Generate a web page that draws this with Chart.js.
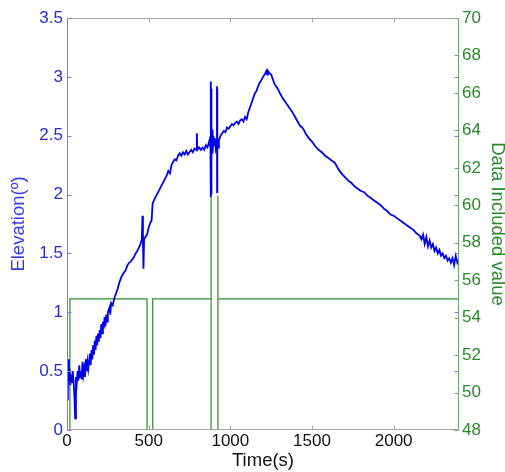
<!DOCTYPE html>
<html>
<head>
<meta charset="utf-8">
<script src="https://cdn.jsdelivr.net/npm/chart.js@4/dist/chart.umd.min.js"></script>
<style>
  html, body { margin: 0; padding: 0; background: #fff; }
  canvas { display: block; }
</style>
</head>
<body>
<canvas id="chartElev" width="505" height="472"></canvas>
<script>
// Elevation track (s, degrees)
const elevTime = [
  5, 8, 12, 16, 20, 25, 30, 35, 40, 45, 50, 55, 60, 65, 70, 75, 80, 85, 90, 95,
  100, 105, 110, 115, 120, 125, 130, 140, 145, 150, 155, 160, 165, 170, 175, 180, 185, 190, 195, 200,
  205, 210, 215, 220, 225, 230, 235, 240, 245, 250, 260, 265, 270, 280, 290, 300, 310, 320, 330, 340,
  350, 360, 370, 380, 390, 400, 410, 420, 430, 440, 450, 458, 462, 465, 468, 472, 480, 490, 500, 510,
  518, 524, 535, 550, 565, 580, 595, 610, 620, 630, 640, 650, 660, 670, 680, 690, 700, 710, 720, 730,
  740, 750, 760, 770, 780, 790, 795, 798, 810, 820, 830, 840, 850, 860, 870, 875, 878, 880, 881, 882,
  883, 884, 885, 886, 888, 890, 893, 896, 900, 905, 910, 915, 918, 919, 920, 921, 925, 930, 940, 950,
  960, 970, 980, 990, 1000, 1010, 1020, 1030, 1040, 1050, 1060, 1070, 1080, 1090, 1100, 1110, 1120, 1130, 1140, 1150,
  1160, 1170, 1180, 1190, 1200, 1210, 1220, 1225, 1230, 1240, 1250, 1260, 1270, 1280, 1290, 1300, 1320, 1340, 1350, 1360,
  1380, 1400, 1420, 1430, 1440, 1450, 1460, 1480, 1500, 1520, 1540, 1560, 1580, 1600, 1620, 1640, 1660, 1680, 1700, 1720,
  1740, 1760, 1780, 1800, 1820, 1840, 1860, 1880, 1900, 1920, 1940, 1960, 1980, 2000, 2020, 2040, 2060, 2080, 2100, 2120,
  2140, 2160, 2170, 2180, 2190, 2200, 2210, 2220, 2230, 2240, 2250, 2260, 2270, 2280, 2290, 2300, 2310, 2320, 2330, 2340,
  2350, 2360, 2370, 2380, 2390, 2400
];
const elevDeg = [
  0.25, 0.60, 0.42, 0.52, 0.38, 0.47, 0.40, 0.50, 0.42, 0.30, 0.10, 0.45, 0.40, 0.50, 0.42, 0.55, 0.45, 0.50, 0.43, 0.58,
  0.47, 0.52, 0.45, 0.60, 0.50, 0.58, 0.52, 0.65, 0.55, 0.68, 0.60, 0.72, 0.64, 0.76, 0.68, 0.80, 0.72, 0.82, 0.75, 0.85,
  0.78, 0.90, 0.82, 0.92, 0.86, 0.96, 0.88, 0.98, 0.92, 1.00, 1.04, 0.98, 1.08, 1.06, 1.12, 1.16, 1.20, 1.25, 1.29, 1.32,
  1.34, 1.36, 1.40, 1.42, 1.43, 1.45, 1.47, 1.50, 1.52, 1.55, 1.58, 1.62, 1.82, 1.60, 1.37, 1.62, 1.64, 1.66, 1.72, 1.76,
  1.78, 1.92, 1.96, 2.00, 2.04, 2.08, 2.12, 2.16, 2.20, 2.18, 2.25, 2.28, 2.30, 2.29, 2.33, 2.35, 2.33, 2.36, 2.34, 2.37,
  2.34, 2.36, 2.38, 2.36, 2.39, 2.38, 2.52, 2.38, 2.40, 2.38, 2.40, 2.38, 2.42, 2.40, 2.45, 2.42, 2.50, 2.96, 1.98, 2.90,
  2.00, 2.70, 2.10, 2.60, 2.40, 2.55, 2.35, 2.50, 2.42, 2.48, 2.40, 2.45, 2.92, 2.02, 2.90, 2.45, 2.40, 2.46, 2.50, 2.52,
  2.54, 2.53, 2.57, 2.56, 2.58, 2.60, 2.59, 2.61, 2.62, 2.60, 2.63, 2.64, 2.62, 2.66, 2.64, 2.70, 2.74, 2.78, 2.82, 2.86,
  2.88, 2.92, 2.95, 2.97, 3.00, 3.02, 3.05, 3.02, 3.05, 3.03, 3.02, 2.98, 2.94, 2.92, 2.90, 2.87, 2.82, 2.78, 2.76, 2.74,
  2.70, 2.65, 2.60, 2.58, 2.57, 2.55, 2.52, 2.48, 2.45, 2.41, 2.38, 2.36, 2.33, 2.31, 2.29, 2.27, 2.22, 2.18, 2.15, 2.12,
  2.10, 2.07, 2.05, 2.03, 2.02, 1.99, 1.97, 1.95, 1.93, 1.91, 1.88, 1.86, 1.83, 1.82, 1.80, 1.78, 1.76, 1.74, 1.72, 1.70,
  1.67, 1.65, 1.62, 1.66, 1.58, 1.64, 1.56, 1.61, 1.55, 1.58, 1.52, 1.55, 1.50, 1.53, 1.48, 1.50, 1.46, 1.48, 1.44, 1.46,
  1.42, 1.46, 1.40, 1.48, 1.42, 1.45
];

// "Data Included" flag, step trace on the right axis
const flagTime  = [0, 18, 18, 490, 490, 525, 525, 882, 882, 882, 882, 924, 924, 924, 2400];
const flagValue = [48, 48, 55, 55, 48, 48, 55, 55, 48, 60.5, 48, 48, 60.5, 55, 55];

// Axis ticks
const timeTicks = [0, 500, 1000, 1500, 2000];
const elevTicks = [0, 0.5, 1, 1.5, 2, 2.5, 3, 3.5];
const flagTicks = [48, 50, 52, 54, 56, 58, 60, 62, 64, 66, 68, 70];

const BLUE = '#0000f0';
const GREEN = '#2e8c2e';
const FONT = "'Liberation Sans', Arial, sans-serif";

const toPoints = (xs, ys) => xs.map((x, i) => ({ x: x, y: ys[i] }));
const fixTicks = vals => scale => { scale.ticks = vals.map(v => ({ value: v })); };
const plainLabel = v => String(v);

// frame + small inward tick marks, matlab style
const frameTicks = {
  id: 'frameTicks',
  afterDatasetsDraw(chart) {
    const { ctx, chartArea: a, scales } = chart;
    const L = a.left + 0.5, R = a.right - 0.5, T = a.top + 0.5, B = a.bottom - 0.5;
    const len = 4;
    ctx.save();
    ctx.lineWidth = 1;

    ctx.strokeStyle = '#a4a4a4';
    ctx.beginPath();
    ctx.moveTo(L, T); ctx.lineTo(R, T);
    ctx.moveTo(L, B); ctx.lineTo(R, B);
    timeTicks.forEach(v => {
      const x = Math.round(scales.x.getPixelForValue(v)) + 0.5;
      ctx.moveTo(x, B); ctx.lineTo(x, B - len);
      ctx.moveTo(x, T); ctx.lineTo(x, T + len);
    });
    ctx.stroke();

    ctx.strokeStyle = '#7a7af2';
    ctx.beginPath();
    ctx.moveTo(L, T); ctx.lineTo(L, B);
    elevTicks.forEach(v => {
      const y = Math.round(scales.y.getPixelForValue(v)) + 0.5;
      ctx.moveTo(L, y); ctx.lineTo(L + len, y);
      ctx.moveTo(R, y); ctx.lineTo(R - len, y);
    });
    ctx.stroke();

    ctx.strokeStyle = '#66a866';
    ctx.beginPath();
    ctx.moveTo(R, T); ctx.lineTo(R, B);
    flagTicks.forEach(v => {
      const y = Math.round(scales.y2.getPixelForValue(v)) + 0.5;
      ctx.moveTo(R, y); ctx.lineTo(R - len, y);
    });
    ctx.stroke();
    ctx.restore();
  }
};

new Chart(document.getElementById('chartElev').getContext('2d'), {
  type: 'scatter',
  data: {
    datasets: [
      {
        label: 'Elevation',
        data: toPoints(elevTime, elevDeg),
        yAxisID: 'y',
        showLine: true,
        borderColor: BLUE,
        borderWidth: 1.8,
        pointRadius: 0,
        tension: 0
      },
      {
        label: 'Data Included',
        data: toPoints(flagTime, flagValue),
        yAxisID: 'y2',
        showLine: true,
        borderColor: GREEN,
        borderWidth: 1.2,
        pointRadius: 0,
        tension: 0
      }
    ]
  },
  options: {
    responsive: false,
    animation: false,
    events: [],
    layout: { padding: { top: 18, left: 0, right: 0, bottom: 0 } },
    plugins: { legend: { display: false }, tooltip: { enabled: false } },
    scales: {
      x: {
        type: 'linear',
        position: 'bottom',
        min: 0,
        max: 2400,
        afterBuildTicks: fixTicks(timeTicks),
        afterFit: s => { s.height = 42; },
        grid: { display: false, drawTicks: false },
        border: { display: false },
        ticks: { color: '#111', padding: 1, maxRotation: 0, callback: plainLabel, font: { family: FONT, size: 17 } },
        title: { display: true, text: 'Time(s)', color: '#111', padding: { top: 0, bottom: 0 }, font: { family: FONT, size: 18.5 } }
      },
      y: {
        type: 'linear',
        position: 'left',
        min: 0,
        max: 3.5,
        afterBuildTicks: fixTicks(elevTicks),
        afterFit: s => { s.width = 67; },
        grid: { display: false, drawTicks: false },
        border: { display: false },
        ticks: { color: '#2a2ad8', padding: 4, callback: plainLabel, font: { family: FONT, size: 17 } },
        title: { display: true, text: 'Elevation(º)', color: '#3a3aec', padding: { top: 8, bottom: 0 }, font: { family: FONT, size: 18.5 } }
      },
      y2: {
        type: 'linear',
        position: 'right',
        min: 48,
        max: 70,
        afterBuildTicks: fixTicks(flagTicks),
        afterFit: s => { s.width = 46; },
        grid: { display: false, drawTicks: false },
        border: { display: false },
        ticks: { color: '#2a8a2a', padding: 3, callback: plainLabel, font: { family: FONT, size: 17 } },
        title: { display: true, text: 'Data Included value', color: '#2a8a2a', padding: { top: -1, bottom: 0 }, font: { family: FONT, size: 18.5, lineHeight: 1 } }
      }
    }
  },
  plugins: [frameTicks]
});
</script>
</body>
</html>
